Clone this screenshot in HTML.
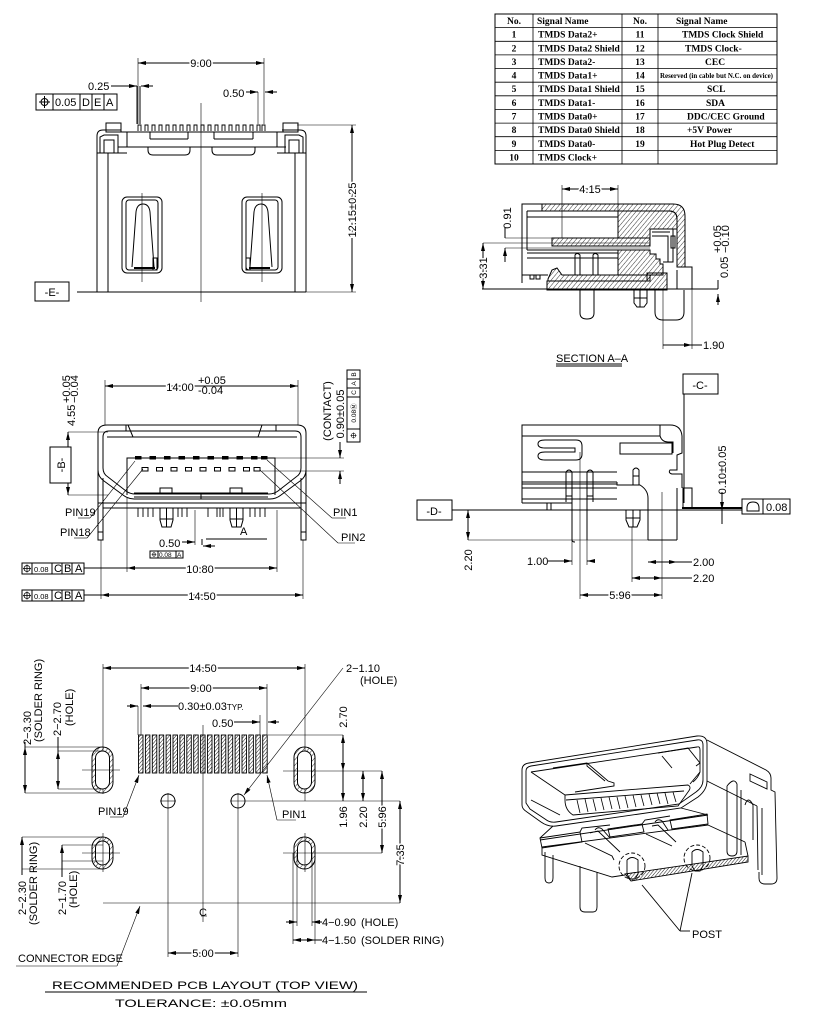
<!DOCTYPE html>
<html><head><meta charset="utf-8"><style>
html,body{margin:0;padding:0;background:#fff;}
svg{display:block;}
.t{fill:#000;stroke:none;font-family:"Liberation Sans",sans-serif;font-size:11px;}
.d{fill:#000;stroke:#fff;stroke-width:3px;paint-order:stroke;font-family:"Liberation Sans",sans-serif;font-size:11px;}
.s{fill:#000;stroke:none;font-family:"Liberation Serif",serif;font-size:9.5px;font-weight:bold;}
.sm{fill:#000;stroke:none;font-family:"Liberation Sans",sans-serif;font-size:6.5px;}
.th{stroke-width:0.6;}
</style></head><body>
<svg width="816" height="1023" viewBox="0 0 816 1023" xmlns="http://www.w3.org/2000/svg" fill="none" stroke="#000" stroke-width="1">
<defs>
<marker id="ar" viewBox="0 0 8 4" refX="8" refY="2" markerWidth="8" markerHeight="4" markerUnits="userSpaceOnUse" orient="auto-start-reverse"><path d="M0,0 L8,2 L0,4 Z" fill="#000" stroke="none"/></marker>
<pattern id="hp" width="3.5" height="3.5" patternUnits="userSpaceOnUse" patternTransform="rotate(40)"><line x1="0" y1="0" x2="0" y2="3.5" stroke="#000" stroke-width="0.8"/></pattern>
<pattern id="hp2" width="2.5" height="2.5" patternUnits="userSpaceOnUse" patternTransform="rotate(40)"><line x1="0" y1="0" x2="0" y2="2.5" stroke="#000" stroke-width="0.9"/></pattern>
<g id="pos"><circle cx="0" cy="0" r="3" stroke-width="0.8"/><line x1="-4" y1="0" x2="4" y2="0" stroke-width="0.8"/><line x1="0" y1="-4" x2="0" y2="4" stroke-width="0.8"/></g>
</defs>

<!-- ================= TABLE ================= -->
<rect x="495" y="14" width="282" height="150"/>
<g stroke-width="0.8">
<line x1="533" y1="14" x2="533" y2="164"/><line x1="622" y1="14" x2="622" y2="164"/><line x1="658" y1="14" x2="658" y2="164"/>
<line x1="495" y1="27.6" x2="777" y2="27.6"/><line x1="495" y1="41.3" x2="777" y2="41.3"/><line x1="495" y1="54.9" x2="777" y2="54.9"/>
<line x1="495" y1="68.5" x2="777" y2="68.5"/><line x1="495" y1="82.2" x2="777" y2="82.2"/><line x1="495" y1="95.8" x2="777" y2="95.8"/>
<line x1="495" y1="109.5" x2="777" y2="109.5"/><line x1="495" y1="123.1" x2="777" y2="123.1"/><line x1="495" y1="136.7" x2="777" y2="136.7"/>
<line x1="495" y1="150.4" x2="777" y2="150.4"/>
</g>
<g class="s">
<text x="514" y="24" text-anchor="middle">No.</text><text x="537" y="24">Signal Name</text>
<text x="640" y="24" text-anchor="middle">No.</text><text x="676" y="24">Signal Name</text>
<g text-anchor="middle">
<text x="514" y="37.6">1</text><text x="514" y="51.3">2</text><text x="514" y="64.9">3</text><text x="514" y="78.6">4</text><text x="514" y="92.2">5</text>
<text x="514" y="105.8">6</text><text x="514" y="119.5">7</text><text x="514" y="133.1">8</text><text x="514" y="146.8">9</text><text x="514" y="160.4">10</text>
<text x="640" y="37.6">11</text><text x="640" y="51.3">12</text><text x="640" y="64.9">13</text><text x="640" y="78.6">14</text><text x="640" y="92.2">15</text>
<text x="640" y="105.8">16</text><text x="640" y="119.5">17</text><text x="640" y="133.1">18</text><text x="640" y="146.8">19</text>
</g>
<text x="538" y="37.6">TMDS Data2+</text><text x="538" y="51.3">TMDS Data2 Shield</text><text x="538" y="64.9">TMDS Data2-</text>
<text x="538" y="78.6">TMDS Data1+</text><text x="538" y="92.2">TMDS Data1 Shield</text><text x="538" y="105.8">TMDS Data1-</text>
<text x="538" y="119.5">TMDS Data0+</text><text x="538" y="133.1">TMDS Data0 Shield</text><text x="538" y="146.8">TMDS Data0-</text>
<text x="538" y="160.4">TMDS Clock+</text>
<text x="682" y="37.6">TMDS Clock Shield</text><text x="685" y="51.3">TMDS Clock-</text><text x="705" y="64.9">CEC</text>
<text x="660" y="77.8" font-size="7" textLength="113" lengthAdjust="spacingAndGlyphs">Reserved (in cable but N.C. on device)</text>
<text x="707" y="92.2">SCL</text><text x="706" y="105.8">SDA</text><text x="687" y="119.5">DDC/CEC Ground</text>
<text x="687" y="133.1">+5V Power</text><text x="690" y="146.8">Hot Plug Detect</text>
</g>

<!-- ================= TOP VIEW ================= -->
<line x1="138" y1="63" x2="264" y2="63" marker-start="url(#ar)" marker-end="url(#ar)"/>
<text class="d" x="201" y="67" text-anchor="middle">9.00</text>
<line x1="138" y1="58" x2="138" y2="124" class="th"/><line x1="264" y1="58" x2="264" y2="124" class="th"/>
<text class="t" x="88" y="90">0.25</text>
<line x1="111" y1="86" x2="137" y2="86" marker-end="url(#ar)"/>
<line x1="153" y1="86" x2="141" y2="86" marker-end="url(#ar)"/>
<line x1="137" y1="86" x2="137" y2="124"/><line x1="140" y1="86" x2="140" y2="124"/>
<text class="t" x="223" y="97">0.50</text>
<line x1="246" y1="92" x2="258" y2="92" marker-end="url(#ar)"/>
<line x1="258" y1="92" x2="258" y2="124" class="th"/>
<line x1="277" y1="92" x2="265" y2="92" marker-end="url(#ar)"/>
<!-- GDT -->
<rect x="36" y="94" width="81" height="16"/>
<line x1="53" y1="94" x2="53" y2="110"/><line x1="80" y1="94" x2="80" y2="110"/><line x1="92" y1="94" x2="92" y2="110"/><line x1="104" y1="94" x2="104" y2="110"/>
<circle cx="44.5" cy="102" r="3.5"/><line x1="39" y1="102" x2="50" y2="102"/><line x1="44.5" y1="96" x2="44.5" y2="108"/>
<text class="t" x="55" y="106" font-size="10">0.05</text><text class="t" x="82" y="106" font-size="10">D</text><text class="t" x="94" y="106" font-size="10">E</text><text class="t" x="106" y="106" font-size="10">A</text>
<!-- center line -->
<line x1="201" y1="103" x2="201" y2="302" class="th"/>
<!-- body -->
<path d="M97,292 L97,136 Q97,130 103,130 L121,130"/>
<path d="M306,292 L306,136 Q306,130 300,130 L282,130"/>
<line x1="97" y1="292" x2="306" y2="292"/>
<line x1="108" y1="153" x2="108" y2="292"/><line x1="295" y1="153" x2="295" y2="292"/>
<line x1="97" y1="153" x2="127" y2="153"/><line x1="277" y1="153" x2="306" y2="153"/>
<line x1="118" y1="132" x2="286" y2="132"/>
<line x1="118" y1="147" x2="286" y2="147"/>
<rect x="106" y="123" width="15" height="9"/><rect x="283" y="123" width="15" height="9"/>
<path d="M100,153 L100,137 L104,135 L118,135 L118,153"/><path d="M104,153 L104,140 L114,140 L114,153"/>
<path d="M303,153 L303,137 L299,135 L285,135 L285,153"/><path d="M299,153 L299,140 L289,140 L289,153"/>
<path d="M127,132 L127,147 M277,132 L277,147"/>
<path d="M148,147 L148,150 Q148,155 153,155 L185,155 Q190,155 190,150 L190,147"/>
<path d="M212,147 L212,150 Q212,155 217,155 L250,155 Q255,155 255,150 L255,147"/>
<line x1="150" y1="132" x2="150" y2="139"/><line x1="188" y1="132" x2="188" y2="139"/><line x1="150" y1="139" x2="188" y2="139"/>
<line x1="214" y1="132" x2="214" y2="139"/><line x1="253" y1="132" x2="253" y2="139"/><line x1="214" y1="139" x2="253" y2="139"/>
<!-- pins row -->
<g stroke-width="0.9">
<path d="M138,131 v-6 h3 v6 M145,131 v-6 h3 v6 M152,131 v-6 h3 v6 M159,131 v-6 h3 v6 M166,131 v-6 h3 v6 M173,131 v-6 h3 v6 M180,131 v-6 h3 v6 M187,131 v-6 h3 v6 M194,131 v-6 h3 v6 M201,131 v-6 h3 v6 M208,131 v-6 h3 v6 M215,131 v-6 h3 v6 M222,131 v-6 h3 v6 M229,131 v-6 h3 v6 M236,131 v-6 h3 v6 M243,131 v-6 h3 v6 M250,131 v-6 h3 v6 M257,131 v-6 h3 v6 M262,131 v-6 h3 v6"/>
</g>
<!-- latch windows -->
<rect x="122" y="197" width="40" height="76" rx="5"/>
<rect x="126" y="200" width="32" height="70" rx="3"/>
<path d="M132,267 L136,212 Q137,204 143,204 Q149,204 150,212 L154,267"/>
<line x1="134" y1="268" x2="155" y2="268" stroke-width="2"/>
<rect x="153" y="258" width="4" height="12"/>
<line x1="142" y1="193" x2="142" y2="282" class="th"/>
<rect x="242" y="197" width="40" height="76" rx="5"/>
<rect x="246" y="200" width="32" height="70" rx="3"/>
<path d="M250,267 L254,212 Q255,204 261,204 Q267,204 268,212 L272,267"/>
<line x1="249" y1="268" x2="270" y2="268" stroke-width="2"/>
<rect x="246" y="258" width="4" height="12"/>
<line x1="262" y1="193" x2="262" y2="282" class="th"/>
<!-- E datum & 12.15 -->
<rect x="35" y="282" width="34" height="19"/>
<text class="t" x="52" y="296" text-anchor="middle" font-size="13">-E-</text>
<line x1="77" y1="292" x2="97" y2="292"/><line x1="306" y1="292" x2="356" y2="292" class="th"/>
<line x1="297" y1="125" x2="356" y2="125" class="th"/>
<line x1="352" y1="125" x2="352" y2="292" marker-start="url(#ar)" marker-end="url(#ar)"/>
<text class="d" transform="translate(356,210) rotate(-90)" text-anchor="middle">12.15±0.25</text>

<!-- ================= SECTION A-A ================= -->
<line x1="562" y1="189" x2="618" y2="189" marker-start="url(#ar)" marker-end="url(#ar)"/>
<text class="d" x="590" y="193" text-anchor="middle">4.15</text>
<line x1="562" y1="185" x2="562" y2="238" class="th"/><line x1="618" y1="185" x2="618" y2="212" class="th"/>
<path d="M542,204 L673,204 Q685,204 685,216 L685,267 L677,267 L677,219 Q677,211 669,211 L542,211 Z" fill="url(#hp)"/>
<path d="M618,211 L669,211 Q677,211 677,219 L677,229 L650,229 L650,238 L618,238 Z" fill="url(#hp)"/>
<rect x="552" y="238" width="98" height="8" fill="url(#hp)"/>
<path d="M618,250 L650,250 L650,254 L656,254 L656,259 L660,259 L660,264 L663,264 L663,275 L618,275 Z" fill="url(#hp)"/>
<path d="M547,281 L647,281 L647,273 L667,273 L667,290 L547,290 Z" fill="url(#hp)"/>
<path d="M548,279 L552,270 L557,268 L562,275 L650,275 L650,281 L548,281 Z" fill="url(#hp)"/>
<path d="M542,204 L522,204 L522,283"/>
<line x1="527" y1="211" x2="618" y2="211"/><line x1="527" y1="217" x2="618" y2="217"/>
<line x1="527" y1="211" x2="527" y2="250"/>
<line x1="527" y1="250" x2="618" y2="250"/><line x1="527" y1="253" x2="618" y2="253"/><line x1="527" y1="258" x2="618" y2="258"/>
<path d="M575,275 L575,255 Q577,252 580,255 L580,275"/><path d="M593,275 L593,255 Q595,252 598,255 L598,275"/>
<line x1="522" y1="275" x2="548" y2="275"/>
<rect x="530" y="275" width="4" height="4"/><rect x="536" y="275" width="4" height="4"/>
<path d="M650,229 L673,229 L673,262 L663,262 M652,232 L670,232 M652,236 L668,236 L668,262"/>
<rect x="671" y="236" width="4" height="12"/>
<path d="M685,267 L692,267 L692,289 M677,270 L677,289 L690,289"/>
<line x1="482" y1="289" x2="718" y2="289"/>
<text class="t" transform="translate(511,218) rotate(-90)" text-anchor="middle">0.91</text>
<line x1="505" y1="228" x2="505" y2="238"/><line x1="505" y1="238" x2="552" y2="238" class="th"/>
<line x1="505" y1="262" x2="505" y2="248" marker-end="url(#ar)"/><line x1="505" y1="248" x2="650" y2="248" class="th"/>
<line x1="483" y1="243" x2="483" y2="289" marker-start="url(#ar)" marker-end="url(#ar)"/>
<line x1="483" y1="243" x2="650" y2="243" class="th"/>
<text class="d" transform="translate(487,268) rotate(-90)" text-anchor="middle">3.31</text>
<line x1="718" y1="280" x2="718" y2="289" /><line x1="718" y1="305" x2="718" y2="294" marker-end="url(#ar)"/>
<text class="t" transform="translate(728,278) rotate(-90)">0.05</text>
<text class="t" transform="translate(721,253) rotate(-90)" font-size="7.5">+0.05</text>
<text class="t" transform="translate(729,253) rotate(-90)" font-size="7.5">−0.10</text>
<path d="M580,290 L580,313 Q580,319 587,319 Q594,319 594,313 L594,290"/>
<path d="M634,290 L634,303 L637,307 L644,307 L647,303 L647,290 M634,298 L647,298 M640,290 L640,307"/>
<path d="M655,290 L655,312 Q655,320 663,320 L676,320 Q684,320 684,312 L684,290"/>
<line x1="663" y1="290" x2="663" y2="349" class="th"/><line x1="692" y1="289" x2="692" y2="349" class="th"/>
<line x1="663" y1="345" x2="692" y2="345" marker-end="url(#ar)"/><line x1="692" y1="345" x2="702" y2="345"/>
<text class="t" x="703" y="349">1.90</text>
<text class="t" x="556" y="362" font-size="10">SECTION A–A</text>
<line x1="556" y1="364" x2="622" y2="364"/><line x1="556" y1="366" x2="622" y2="366"/>

<!-- ================= FRONT VIEW ================= -->
<line x1="105" y1="386" x2="298" y2="386" marker-start="url(#ar)" marker-end="url(#ar)"/>
<text class="d" x="180" y="391" text-anchor="middle">14.00</text>
<text class="t" x="198" y="384" font-size="9">+0.05</text><text class="t" x="198" y="394" font-size="9">-0.04</text>
<line x1="105" y1="380" x2="105" y2="425" class="th"/><line x1="298" y1="380" x2="298" y2="425" class="th"/>
<path d="M107,425 L297,425 Q306,425 306,433 L306,470 Q306,477 300,481 L281,495 Q276,499 270,499 L134,499 Q128,499 123,495 L104,481 Q98,477 98,470 L98,433 Q98,425 107,425 Z"/>
<path d="M109,431 L295,431 Q301,431 301,437 L301,468 Q301,474 296,477 L278,491 Q274,494 269,494 L135,494 Q130,494 126,491 L108,477 Q103,474 103,468 L103,437 Q103,431 109,431 Z"/>
<line x1="107" y1="437" x2="297" y2="437"/>
<path d="M128,425 L133,437 L153,437 M262,425 L258,437 L245,437 M126,425 L126,431 M276,425 L276,431"/>
<path d="M98,470 L98,540 L103,540 L103,478"/><path d="M306,470 L306,540 L301,540 L301,478"/>
<line x1="98" y1="532" x2="103" y2="532"/><line x1="301" y1="532" x2="306" y2="532"/>
<path d="M127,495 L127,458 L275,458 L275,495"/>
<line x1="134" y1="493" x2="268" y2="493"/><line x1="134" y1="497" x2="268" y2="497"/>
<line x1="201" y1="493" x2="201" y2="499"/>
<rect x="160" y="488" width="12" height="6"/><rect x="230" y="488" width="12" height="6"/>
<g fill="#000" stroke="none">
<rect x="135" y="456" width="6.5" height="3.5"/><rect x="149.5" y="456" width="6.5" height="3.5"/><rect x="164" y="456" width="6.5" height="3.5"/><rect x="178.5" y="456" width="6.5" height="3.5"/><rect x="193" y="456" width="6.5" height="3.5"/>
<rect x="207.5" y="456" width="6.5" height="3.5"/><rect x="222" y="456" width="6.5" height="3.5"/><rect x="236.5" y="456" width="6.5" height="3.5"/><rect x="251" y="456" width="6.5" height="3.5"/><rect x="261" y="456" width="6.5" height="3.5"/>
</g>
<g>
<rect x="142" y="467.5" width="6" height="3.5"/><rect x="156.5" y="467.5" width="6" height="3.5"/><rect x="171" y="467.5" width="6" height="3.5"/><rect x="185.5" y="467.5" width="6" height="3.5"/><rect x="200" y="467.5" width="6" height="3.5"/>
<rect x="214.5" y="467.5" width="6" height="3.5"/><rect x="229" y="467.5" width="6" height="3.5"/><rect x="243.5" y="467.5" width="6" height="3.5"/><rect x="254" y="467.5" width="6" height="3.5"/>
</g>
<line x1="98" y1="503" x2="306" y2="503"/><line x1="103" y1="508" x2="301" y2="508"/>
<g stroke-width="0.9">
<path d="M138,508 v9 M143,508 v9 M148,508 v9 M153,508 v9 M178,508 v9 M182,508 v9 M187,508 v9 M208,508 v9 M217,508 v9 M220,508 v9 M223,508 v9 M250,508 v9 M255,508 v9 M260,508 v9 M265,508 v9"/>
</g>
<path d="M160,508 L160,520 L162,527 L171,527 L173,520 L173,508 M160,519 L173,519 M166.5,508 L166.5,527"/>
<path d="M230,508 L230,520 L232,527 L241,527 L243,520 L243,508 M230,519 L243,519 M236.5,508 L236.5,527"/>
<line x1="275" y1="458" x2="344" y2="458" class="th"/><line x1="262" y1="471" x2="344" y2="471" class="th"/>
<line x1="340" y1="442" x2="340" y2="458" marker-end="url(#ar)"/>
<line x1="340" y1="484" x2="340" y2="471" marker-end="url(#ar)"/>
<text class="t" transform="translate(331,411) rotate(-90)" text-anchor="middle" font-size="10">(CONTACT)</text>
<text class="t" transform="translate(344,414) rotate(-90)" text-anchor="middle">0.90±0.05</text>
<rect x="347" y="370" width="13" height="72"/>
<line x1="347" y1="429" x2="360" y2="429"/><line x1="347" y1="397" x2="360" y2="397"/><line x1="347" y1="388" x2="360" y2="388"/><line x1="347" y1="379" x2="360" y2="379"/>
<g transform="translate(353.5,435.5) scale(0.75)"><use href="#pos"/></g>
<g class="sm" font-size="6.5">
<text transform="translate(356,413) rotate(-90)" text-anchor="middle">0.08Ⓜ</text>
<text transform="translate(356,392.5) rotate(-90)" text-anchor="middle">C</text>
<text transform="translate(356,383.5) rotate(-90)" text-anchor="middle">A</text>
<text transform="translate(356,374.5) rotate(-90)" text-anchor="middle">B</text>
</g>
<!-- left dims -->
<line x1="68" y1="432" x2="108" y2="432" class="th"/><line x1="68" y1="495" x2="108" y2="495" class="th"/>
<line x1="68" y1="445" x2="68" y2="495" marker-end="url(#ar)"/>
<line x1="68" y1="445" x2="68" y2="432" marker-end="url(#ar)"/>
<text class="t" transform="translate(75,426) rotate(-90)">4.55</text>
<text class="t" transform="translate(70,403) rotate(-90)" font-size="8.5">+0.05</text>
<text class="t" transform="translate(78,403) rotate(-90)" font-size="8.5">−0.04</text>
<rect x="50" y="447" width="21" height="36" fill="#fff"/>
<text class="t" transform="translate(65,465) rotate(-90)" text-anchor="middle" font-size="13">-B-</text>
<text class="t" x="65" y="516" font-size="10">PIN19</text><line x1="78" y1="518" x2="90" y2="518" class="th"/>
<line x1="90" y1="518" x2="135" y2="461" class="th"/>
<text class="t" x="60" y="536" font-size="10">PIN18</text><line x1="74" y1="538" x2="87" y2="538" class="th"/>
<line x1="87" y1="538" x2="143" y2="469" class="th"/>
<text class="t" x="333" y="516" font-size="10">PIN1</text><line x1="332" y1="518" x2="346" y2="518" class="th"/>
<line x1="332" y1="518" x2="267" y2="460" class="th"/>
<text class="t" x="341" y="541" font-size="10">PIN2</text><line x1="338" y1="543" x2="355" y2="543" class="th"/>
<line x1="338" y1="543" x2="260" y2="470" class="th"/>
<text class="t" x="159" y="547">0.50</text>
<line x1="182" y1="542" x2="195" y2="542" marker-end="url(#ar)"/>
<line x1="195" y1="510" x2="195" y2="545" class="th"/>
<line x1="215" y1="546" x2="203" y2="546" marker-end="url(#ar)"/>
<path d="M202,539 L202,545 M206,539 L267,539"/>
<text class="t" x="240" y="535" font-size="10">A</text>
<rect x="150" y="551" width="33" height="7"/><line x1="158" y1="551" x2="158" y2="558"/><line x1="176" y1="551" x2="176" y2="558"/>
<g transform="translate(154,554.5) scale(0.6)"><use href="#pos"/></g>
<text class="sm" x="159" y="557" font-size="5.5">0.08</text><text class="sm" x="177" y="557">A</text>
<line x1="127" y1="498" x2="127" y2="572" class="th"/><line x1="277" y1="510" x2="277" y2="572" class="th"/>
<line x1="127" y1="568" x2="277" y2="568" marker-start="url(#ar)" marker-end="url(#ar)"/>
<text class="d" x="200" y="573" text-anchor="middle" font-size="12">10.80</text>
<line x1="84" y1="568" x2="127" y2="568"/>
<line x1="101" y1="540" x2="101" y2="599" class="th"/><line x1="303" y1="540" x2="303" y2="599" class="th"/>
<line x1="101" y1="595" x2="303" y2="595" marker-start="url(#ar)" marker-end="url(#ar)"/>
<text class="d" x="202" y="600" text-anchor="middle" font-size="12">14.50</text>
<line x1="84" y1="595" x2="101" y2="595"/>
<g>
<rect x="22" y="563" width="62" height="11"/><line x1="32" y1="563" x2="32" y2="574"/><line x1="52" y1="563" x2="52" y2="574"/><line x1="62" y1="563" x2="62" y2="574"/><line x1="72" y1="563" x2="72" y2="574"/>
<rect x="22" y="590" width="62" height="11"/><line x1="32" y1="590" x2="32" y2="601"/><line x1="52" y1="590" x2="52" y2="601"/><line x1="62" y1="590" x2="62" y2="601"/><line x1="72" y1="590" x2="72" y2="601"/>
</g>
<g transform="translate(27,568.5)"><use href="#pos"/></g>
<g transform="translate(27,595.5)"><use href="#pos"/></g>
<g class="t" font-size="8">
<text x="34" y="572" font-size="7.5">0.08</text><text x="54" y="572">C</text><text x="64" y="572">B</text><text x="75" y="572">A</text>
<text x="34" y="599" font-size="7.5">0.08</text><text x="54" y="599">C</text><text x="64" y="599">B</text><text x="75" y="599">A</text>
</g>

<!-- ================= SIDE VIEW ================= -->
<rect x="683" y="374" width="35" height="20"/>
<text class="t" x="700" y="389" text-anchor="middle" font-size="13">-C-</text>
<line x1="684" y1="394" x2="684" y2="503"/>
<path d="M522,503 L522,425 L670,425 Q681,425 682,436 L682,453 L677,455 L677,470 L670,470 Q668,473 672,474 L682,474 L682,488"/>
<rect x="683" y="488" width="9" height="20"/>
<line x1="522" y1="436" x2="660" y2="436"/>
<path d="M660,425 L660,436 Q662,442 668,442 L673,442 L673,453"/>
<path d="M582,446 Q582,440 576,440 L545,440 Q538,440 538,444 Q538,448 545,448 L575,448 L575,452 L545,452 Q538,452 538,456 Q538,460 545,460 L576,460 Q582,460 582,454 Z"/>
<rect x="620" y="443" width="52" height="11"/>
<line x1="522" y1="472" x2="617" y2="472"/><line x1="522" y1="482" x2="617" y2="482"/><line x1="522" y1="484" x2="617" y2="484"/>
<line x1="522" y1="488" x2="617" y2="488"/><line x1="522" y1="499" x2="617" y2="499"/><line x1="522" y1="503" x2="572" y2="503"/>
<path d="M617,482 L617,485 L640,485 Q648,490 648,498 L648,540"/>
<path d="M677,488 L677,540"/>
<line x1="648" y1="540" x2="677" y2="540"/>
<path d="M566,502 L566,472 Q569,468 572,472 L572,540 Q572,542 575,542 M587,472 Q590,468 593,472 L593,502 M587,472 L587,540"/>
<line x1="566" y1="496" x2="572" y2="496"/><line x1="587" y1="496" x2="593" y2="496"/>
<line x1="580" y1="452" x2="580" y2="599" class="th"/>
<path d="M633,485 L633,470 Q636,466 639,470 L639,485 M633,476 L639,476"/>
<rect x="547" y="503" width="4" height="7"/>
<path d="M626,510 L626,520 L629,527 L637,527 L640,520 L640,510 M626,518 L640,518 M633,510 L633,527"/>
<line x1="662" y1="492" x2="662" y2="599" class="th"/>
<rect x="417" y="500" width="35" height="20"/>
<text class="t" x="434" y="515" text-anchor="middle" font-size="13">-D-</text>
<line x1="452" y1="510" x2="742" y2="510"/>
<line x1="682" y1="508" x2="742" y2="508" stroke-width="2"/>
<rect x="742" y="499" width="48" height="15"/><line x1="763" y1="499" x2="763" y2="514"/>
<path d="M747,511 L759,511 L759,508 Q759,502 753,502 Q747,502 747,508 Z"/>
<text class="t" x="766" y="511">0.08</text>
<line x1="722" y1="492" x2="722" y2="510" marker-end="url(#ar)"/>
<line x1="722" y1="524" x2="722" y2="510"/>
<text class="t" transform="translate(726,470) rotate(-90)" text-anchor="middle">0.10±0.05</text>
<line x1="468" y1="510" x2="468" y2="540" marker-start="url(#ar)" marker-end="url(#ar)"/>
<line x1="468" y1="540" x2="677" y2="540" class="th"/>
<text class="t" transform="translate(472,560) rotate(-90)" text-anchor="middle">2.20</text>
<text class="t" x="527" y="565">1.00</text>
<line x1="548" y1="561" x2="572" y2="561" marker-end="url(#ar)"/>
<line x1="595" y1="561" x2="587" y2="561" marker-end="url(#ar)"/>
<line x1="572" y1="540" x2="572" y2="565" class="th"/><line x1="587" y1="540" x2="587" y2="565" class="th"/>
<line x1="648" y1="562" x2="677" y2="562" marker-start="url(#ar)" marker-end="url(#ar)"/>
<line x1="677" y1="562" x2="692" y2="562"/><text class="t" x="693" y="566">2.00</text>
<line x1="632" y1="527" x2="632" y2="582" class="th"/>
<line x1="632" y1="578" x2="662" y2="578" marker-start="url(#ar)" marker-end="url(#ar)"/>
<line x1="662" y1="578" x2="692" y2="578"/><text class="t" x="693" y="582">2.20</text>
<line x1="580" y1="595" x2="662" y2="595" marker-start="url(#ar)" marker-end="url(#ar)"/>
<text class="d" x="620" y="599" text-anchor="middle">5.96</text>

<!-- ================= PCB LAYOUT ================= -->
<line x1="103" y1="668" x2="305" y2="668" marker-start="url(#ar)" marker-end="url(#ar)"/>
<text class="d" x="203" y="672" text-anchor="middle">14.50</text>
<line x1="103" y1="664" x2="103" y2="794" class="th"/><line x1="305" y1="664" x2="305" y2="801" class="th"/>
<line x1="141" y1="688" x2="267" y2="688" marker-start="url(#ar)" marker-end="url(#ar)"/>
<text class="d" x="201" y="692" text-anchor="middle">9.00</text>
<line x1="141" y1="684" x2="141" y2="735" class="th"/><line x1="267" y1="684" x2="267" y2="735" class="th"/>
<line x1="127" y1="706" x2="138" y2="706" marker-end="url(#ar)"/>
<line x1="178" y1="706" x2="143" y2="706" marker-end="url(#ar)"/>
<line x1="138" y1="706" x2="138" y2="735" class="th"/>
<text class="t" x="178" y="710">0.30±0.03<tspan font-size="8">TYP.</tspan></text>
<text class="t" x="212" y="727">0.50</text>
<line x1="234" y1="722" x2="260" y2="722" marker-end="url(#ar)"/>
<line x1="279" y1="722" x2="268" y2="722" marker-end="url(#ar)"/>
<line x1="260" y1="715" x2="260" y2="735" class="th"/>
<g fill="url(#hp2)" stroke-width="0.9">
<rect x="138.5" y="735" width="4.5" height="38"/><rect x="145.4" y="735" width="4.5" height="38"/><rect x="152.3" y="735" width="4.5" height="38"/><rect x="159.2" y="735" width="4.5" height="38"/><rect x="166.1" y="735" width="4.5" height="38"/>
<rect x="173" y="735" width="4.5" height="38"/><rect x="179.9" y="735" width="4.5" height="38"/><rect x="186.8" y="735" width="4.5" height="38"/><rect x="193.7" y="735" width="4.5" height="38"/><rect x="200.6" y="735" width="4.5" height="38"/>
<rect x="207.5" y="735" width="4.5" height="38"/><rect x="214.4" y="735" width="4.5" height="38"/><rect x="221.3" y="735" width="4.5" height="38"/><rect x="228.2" y="735" width="4.5" height="38"/><rect x="235.1" y="735" width="4.5" height="38"/>
<rect x="242" y="735" width="4.5" height="38"/><rect x="248.9" y="735" width="4.5" height="38"/><rect x="255.8" y="735" width="4.5" height="38"/><rect x="262.7" y="735" width="4.5" height="38"/>
</g>
<line x1="203" y1="725" x2="203" y2="922" class="th"/>
<text class="t" x="203" y="916" text-anchor="middle" font-size="14">C</text>
<line x1="201" y1="916" x2="207" y2="916" class="th"/>
<g>
<rect x="92" y="747" width="21" height="46" rx="10.5" fill="url(#hp)"/><rect x="95.5" y="751" width="14" height="38" rx="7" fill="#fff"/>
<rect x="294" y="747" width="21" height="46" rx="10.5" fill="url(#hp)"/><rect x="297.5" y="751" width="14" height="38" rx="7" fill="#fff"/>
<rect x="92" y="837" width="21" height="32" rx="10.5" fill="url(#hp)"/><rect x="95.5" y="841" width="14" height="24" rx="7" fill="#fff"/>
<rect x="294" y="837" width="21" height="32" rx="10.5" fill="url(#hp)"/><rect x="297.5" y="841" width="14" height="24" rx="7" fill="#fff"/>
</g>
<line x1="82" y1="770" x2="120" y2="770" class="th"/><line x1="283" y1="771" x2="382" y2="771" class="th"/>
<line x1="82" y1="853" x2="120" y2="853" class="th"/><line x1="283" y1="853" x2="382" y2="853" class="th"/>
<line x1="103" y1="833" x2="103" y2="872" class="th"/><line x1="305" y1="833" x2="305" y2="872" class="th"/>
<line x1="268" y1="735" x2="343" y2="735" class="th"/>
<circle cx="168" cy="801" r="7"/><line x1="160" y1="801" x2="176" y2="801" class="th"/><line x1="168" y1="793" x2="168" y2="957" class="th"/>
<circle cx="238" cy="801" r="7"/><line x1="230" y1="801" x2="400" y2="801" class="th"/><line x1="238" y1="793" x2="238" y2="957" class="th"/>
<line x1="168" y1="953" x2="238" y2="953" marker-start="url(#ar)" marker-end="url(#ar)"/>
<text class="d" x="203" y="957" text-anchor="middle">5.00</text>
<line x1="103" y1="903" x2="400" y2="903" class="th"/>
<line x1="343" y1="735" x2="343" y2="771" marker-start="url(#ar)" marker-end="url(#ar)"/>
<line x1="343" y1="771" x2="343" y2="801" marker-end="url(#ar)"/>
<text class="t" transform="translate(347,717) rotate(-90)" text-anchor="middle">2.70</text>
<text class="d" transform="translate(347,817) rotate(-90)" text-anchor="middle">1.96</text>
<line x1="363" y1="771" x2="363" y2="801" marker-start="url(#ar)" marker-end="url(#ar)"/>
<text class="d" transform="translate(367,817) rotate(-90)" text-anchor="middle">2.20</text>
<line x1="382" y1="771" x2="382" y2="853" marker-start="url(#ar)" marker-end="url(#ar)"/>
<text class="d" transform="translate(386,817) rotate(-90)" text-anchor="middle">5.96</text>
<line x1="400" y1="801" x2="400" y2="903" marker-start="url(#ar)" marker-end="url(#ar)"/>
<text class="d" transform="translate(404,855) rotate(-90)" text-anchor="middle">7.35</text>
<text class="t" x="346" y="672">2−1.10</text><text class="t" x="360" y="684" font-size="7">(HOLE)</text>
<line x1="343" y1="668" x2="244" y2="795" class="th" marker-end="url(#ar)"/>
<text class="t" x="98" y="815" font-size="10">PIN19</text><line x1="110" y1="817" x2="123" y2="817" class="th"/>
<line x1="123" y1="817" x2="139" y2="775" class="th" marker-end="url(#ar)"/>
<text class="t" x="282" y="818" font-size="10">PIN1</text><line x1="277" y1="820" x2="296" y2="820" class="th"/>
<line x1="277" y1="820" x2="267" y2="775" class="th" marker-end="url(#ar)"/>
<!-- left dims -->
<line x1="25" y1="747" x2="103" y2="747" class="th"/><line x1="25" y1="793" x2="103" y2="793" class="th"/>
<line x1="25" y1="742" x2="25" y2="793" marker-end="url(#ar)"/><line x1="25" y1="760" x2="25" y2="747" marker-end="url(#ar)"/>
<text class="t" transform="translate(31,745) rotate(-90)">2−3.30</text>
<text class="t" transform="translate(42,742) rotate(-90)" font-size="7">(SOLDER RING)</text>
<line x1="58" y1="751" x2="103" y2="751" class="th"/><line x1="58" y1="789" x2="103" y2="789" class="th"/>
<line x1="58" y1="737" x2="58" y2="789" marker-end="url(#ar)"/><line x1="58" y1="760" x2="58" y2="751" marker-end="url(#ar)"/>
<text class="t" transform="translate(61,736) rotate(-90)">2−2.70</text>
<text class="t" transform="translate(73,726) rotate(-90)" font-size="7">(HOLE)</text>
<line x1="22" y1="837" x2="103" y2="837" class="th"/><line x1="22" y1="869" x2="103" y2="869" class="th"/>
<line x1="22" y1="875" x2="22" y2="837" marker-end="url(#ar)"/>
<text class="t" transform="translate(26,915) rotate(-90)">2−2.30</text>
<text class="t" transform="translate(37,925) rotate(-90)" font-size="7">(SOLDER RING)</text>
<line x1="62" y1="845" x2="103" y2="845" class="th"/><line x1="62" y1="861" x2="103" y2="861" class="th"/>
<line x1="62" y1="877" x2="62" y2="845" marker-end="url(#ar)"/>
<text class="t" transform="translate(66,915) rotate(-90)">2−1.70</text>
<text class="t" transform="translate(77,908) rotate(-90)" font-size="7">(HOLE)</text>
<!-- right bottom dims -->
<line x1="293" y1="853" x2="293" y2="944" class="th"/><line x1="297" y1="853" x2="297" y2="926" class="th"/>
<line x1="312" y1="853" x2="312" y2="926" class="th"/><line x1="315" y1="853" x2="315" y2="944" class="th"/>
<line x1="286" y1="922" x2="297" y2="922" marker-end="url(#ar)"/>
<line x1="322" y1="922" x2="312" y2="922" marker-end="url(#ar)"/>
<text class="t" x="322" y="926">4−0.90</text><text class="t" x="361" y="926" font-size="7">(HOLE)</text>
<line x1="293" y1="940" x2="315" y2="940" marker-start="url(#ar)" marker-end="url(#ar)"/>
<line x1="315" y1="940" x2="322" y2="940"/>
<text class="t" x="322" y="944">4−1.50</text><text class="t" x="361" y="944" font-size="7">(SOLDER RING)</text>
<text class="t" x="18" y="962" font-size="10">CONNECTOR  EDGE</text>
<line x1="16" y1="966" x2="117" y2="966" class="th"/>
<line x1="117" y1="966" x2="140" y2="906" class="th" marker-end="url(#ar)"/>
<text class="t" x="52" y="989" font-size="14" textLength="306" lengthAdjust="spacingAndGlyphs">RECOMMENDED  PCB  LAYOUT  (TOP  VIEW)</text>
<line x1="45" y1="992" x2="367" y2="992"/>
<text class="t" x="115" y="1007" font-size="14" textLength="172" lengthAdjust="spacingAndGlyphs">TOLERANCE:  ±0.05mm</text>

<!-- ================= ISOMETRIC ================= -->
<g stroke-width="0.9">
<path d="M522,805 L522,770 Q522,764 529,763 L697,736 Q707,735 707,744 L707,781 Q707,790 698,797 L681,808 L556,826 Q548,827 541,822 L527,812 Q522,809 522,805 Z"/>
<path d="M526,803 L526,771 Q526,767 531,766 L697,740 Q703,739 703,745 L703,780 Q703,787 696,792 L679,804 L556,822 Q550,823 545,819 L530,809 Z"/>
<path d="M531,772 L697,747 Q700,746 700,750 L700,772 Q698,778 693,782"/>
<!-- interior walls -->
<line x1="531" y1="772" x2="565" y2="795"/>
<line x1="531" y1="800" x2="560" y2="815"/>
<line x1="700" y1="772" x2="690" y2="784"/>
<!-- right side panel -->
<path d="M707,740 L766,770 Q771,773 771,778 L771,790 L775,792 L777,878 Q777,884 771,884 L765,884 Q759,884 759,878 L759,872"/>
<path d="M750,774 L767,782 L767,789 L750,781 Z"/>
<line x1="707" y1="781" x2="757" y2="806"/>
<path d="M757,806 L758,870 M762,808 L762,875"/>
<path d="M727,786 L727,851 Q727,856 732,856 Q737,856 737,851 L737,784 Q734,777 727,786"/>
<line x1="741" y1="790" x2="741" y2="855"/>
<path d="M745,805 Q748,795 753,805 L753,840"/>
<!-- top windows -->
<path d="M553,768 L587,763 L608,781 L614,783 L614,786 L575,792"/>
<path d="M587,763 L587,766 L605,781"/>
<path d="M658,753 L688,748 L700,763 L696,766"/>
<path d="M662,756 L672,768"/>
<!-- tongue -->
<path d="M565,795 L688,785 Q692,787 688,792 L678,806 L573,815 Q565,810 565,800 Z"/>
<line x1="566" y1="800" x2="684" y2="791"/>
<g stroke-width="0.8">
<path d="M577,800 l3,13 M585,799 l3,13 M593,799 l3,12 M601,798 l3,12 M609,797 l3,12 M617,797 l3,12 M625,796 l3,12 M633,795 l3,12 M641,795 l3,11 M649,794 l3,11 M657,793 l3,11 M665,793 l3,11 M673,792 l3,10"/>
</g>
<!-- lower plate -->
<path d="M540,840 L708,815 M542,847 L708,825"/>
<path d="M540,838 L580,832 L582,842 L542,848 Z"/>
<path d="M608,829 L642,824 L644,832 L610,837 Z"/>
<path d="M670,820 L707,814 L708,824 L672,829 Z"/>
<path d="M580,832 L582,828 L610,825 M642,824 L645,820 L670,816"/>
<path d="M585,843 L612,856 L614,860 M590,833 L598,831 L620,852"/>
<path d="M646,834 L672,846 M652,826 L658,825 L676,842"/>
<path d="M595,830 Q598,826 602,829 L610,838"/>
<path d="M655,822 Q658,818 662,821 L668,830"/>
<line x1="553" y1="826" x2="540" y2="838"/>
<line x1="681" y1="808" x2="708" y2="815"/>
<!-- base -->
<path d="M542,848 L542,855 L612,877 L625,875"/>
<path d="M625,874 L748,856 L748,862 L631,881 Z" fill="url(#hp2)"/>
<line x1="708" y1="825" x2="745" y2="842"/>
<line x1="745" y1="842" x2="748" y2="856"/>
<!-- pins -->
<path d="M545,852 L545,878 Q545,883 549,883 Q553,883 553,878 L553,855"/>
<path d="M580,866 L580,907 Q580,912 585,912 L593,912 Q597,912 597,907 L597,872"/>
<!-- posts -->
<circle cx="632" cy="866" r="13" stroke-dasharray="4,2"/>
<circle cx="697" cy="858" r="13" stroke-dasharray="4,2"/>
<path d="M627,860 L627,874 L630,879 L635,879 L638,874 L638,860 Q632,855 627,860"/>
<path d="M692,852 L692,866 L695,871 L700,871 L703,866 L703,852 Q697,847 692,852"/>
<line x1="680" y1="931" x2="642" y2="885"/>
<line x1="680" y1="931" x2="692" y2="873"/>
<line x1="680" y1="931" x2="690" y2="931"/>
</g>
<text class="t" x="692" y="938" font-size="13">POST</text>
</svg>
</body></html>
